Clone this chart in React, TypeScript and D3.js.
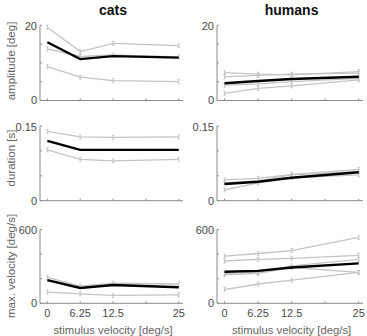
import * as d3 from 'd3';

const velocities = [0, 6.25, 12.5, 25];
const xTicks = [0, 6.25, 12.5, 18.75, 25];
const xTickLabels = ['0', '6.25', '12.5', '25'];
const xTickLabelValues = [0, 6.25, 12.5, 25];

const rowLabels = ['amplitude [deg]', 'duration [s]', 'max. velocity [deg/s]'];
const rowMax = [20, 0.15, 600];
const rowStep = [5, 0.05, 200];
const rowMaxLabels = ['20', '0.15', '600'];
const groupTitles = ['cats', 'humans'];

// individual subjects (gray) and mean (black)
const catsAmplitude = [
  [19.5, 13.0, 15.2, 14.6],
  [13.7, 11.7, 12.1, 11.6],
  [9.0, 6.2, 5.3, 5.0],
];
const catsAmplitudeMean = [15.5, 11.0, 11.8, 11.4];
const humansAmplitude = [
  [7.4, 7.0, 6.8, 7.7],
  [6.3, 6.7, 7.0, 7.3],
  [4.1, 4.4, 5.0, 5.9],
  [1.9, 3.2, 3.9, 5.5],
];
const humansAmplitudeMean = [4.6, 5.2, 5.7, 6.3];

const catsDuration = [
  [0.139, 0.128, 0.127, 0.128],
  [0.102, 0.083, 0.08, 0.083],
];
const catsDurationMean = [0.12, 0.102, 0.102, 0.102];
const humansDuration = [
  [0.042, 0.045, 0.053, 0.063],
  [0.036, 0.04, 0.052, 0.059],
  [0.0215, 0.036, 0.046, 0.052],
];
const humansDurationMean = [0.0335, 0.038, 0.046, 0.057];

const catsVelocity = [
  [211, 139, 163, 157],
  [91, 77, 64, 69],
];
const catsVelocityMean = [189, 125, 149, 131];
const humansVelocity = [
  [384, 405, 429, 536],
  [344, 357, 365, 389],
  [243, 251, 304, 357],
  [232, 243, 291, 251],
  [112, 157, 189, 251],
];
const humansVelocityMean = [256, 264, 291, 325];

const subjects = [
  [catsAmplitude, humansAmplitude],
  [catsDuration, humansDuration],
  [catsVelocity, humansVelocity],
];
const means = [
  [catsAmplitudeMean, humansAmplitudeMean],
  [catsDurationMean, humansDurationMean],
  [catsVelocityMean, humansVelocityMean],
];

const width = 367;
const height = 336;
const colX = [
  [40, 183],
  [217, 363],
];
const rowY = [
  [100.5, 25.3],
  [200.7, 126],
  [303.3, 229.5],
];
const axisColor = '#8a8a8a';
const textColor = '#4a4a4a';
const labelColor = '#666';
const font = 'Liberation Sans, Arial, sans-serif';

function Panel({ row, col }: { row: number; col: number }) {
  const x = d3.scaleLinear().domain([-1.4, 25.8]).range(colX[col]);
  const y = d3.scaleLinear().domain([0, rowMax[row]]).range(rowY[row]);
  const yTicks = d3.range(0, rowMax[row] + rowStep[row] / 2, rowStep[row]);
  const line = d3
    .line<number>()
    .x((_, i) => x(velocities[i]))
    .y((d) => y(d));
  const [x0, x1] = colX[col];
  const [yb, yt] = rowY[row];

  return (
    <g>
      {subjects[row][col].map((s, k) => (
        <g key={k}>
          <path d={line(s) ?? ''} fill="none" stroke="#c4c4c4" strokeWidth={1.3} />
          {s.map((v, i) => (
            <g key={i} stroke="#bdbdbd" strokeWidth={0.8}>
              <line x1={x(velocities[i])} x2={x(velocities[i])} y1={y(v) - 2} y2={y(v) + 2} />
              <line x1={x(velocities[i]) - 1.2} x2={x(velocities[i]) + 1.2} y1={y(v) - 2} y2={y(v) - 2} />
              <line x1={x(velocities[i]) - 1.2} x2={x(velocities[i]) + 1.2} y1={y(v) + 2} y2={y(v) + 2} />
            </g>
          ))}
        </g>
      ))}
      <path d={line(means[row][col]) ?? ''} fill="none" stroke="#000" strokeWidth={2.4} />

      <line x1={x0} x2={x0} y1={yt} y2={yb} stroke={axisColor} strokeWidth={1} />
      <line x1={x0} x2={x1} y1={yb} y2={yb} stroke={axisColor} strokeWidth={1} />
      {yTicks.map((t) => (
        <line key={t} x1={x0} x2={x0 + 2} y1={y(t)} y2={y(t)} stroke={axisColor} />
      ))}
      {xTicks.map((t) => (
        <line key={t} x1={x(t)} x2={x(t)} y1={yb} y2={yb - 2} stroke={axisColor} />
      ))}
      <text x={x0 - 3} y={yb} dy="0.35em" textAnchor="end" fontSize={11} fill={textColor}>
        0
      </text>
      <text x={x0 - 3} y={yt + 1} dy="0.35em" textAnchor="end" fontSize={11} fill={textColor}>
        {rowMaxLabels[row]}
      </text>
      {row === 2 &&
        xTickLabelValues.map((t, i) => (
          <text key={t} x={x(t)} y={317} textAnchor="middle" fontSize={11} fill={textColor}>
            {xTickLabels[i]}
          </text>
        ))}
      {row === 2 && (
        <text x={(x(0) + x(25)) / 2} y={334} textAnchor="middle" fontSize={11.3} fill={labelColor}>
          stimulus velocity [deg/s]
        </text>
      )}
      {row === 0 && (
        <text x={(x(0) + x(25)) / 2} y={15} textAnchor="middle" fontSize={14} fontWeight="bold" fill="#111">
          {groupTitles[col]}
        </text>
      )}
    </g>
  );
}

export default function App() {
  const labelCenters = [61, 158, 266];
  return (
    <div style={{ position: 'absolute', left: 0, top: 0 }}>
      <svg width={width} height={height} style={{ fontFamily: font, display: 'block', background: '#fff' }}>
        {rowLabels.map((lab, r) => (
          <text
            key={lab}
            transform={`translate(15,${labelCenters[r]}) rotate(-90)`}
            textAnchor="middle"
            fontSize={11.5}
            fill={labelColor}
          >
            {lab}
          </text>
        ))}
        {[0, 1, 2].map((r) => [0, 1].map((c) => <Panel key={`${r}-${c}`} row={r} col={c} />))}
      </svg>
    </div>
  );
}
